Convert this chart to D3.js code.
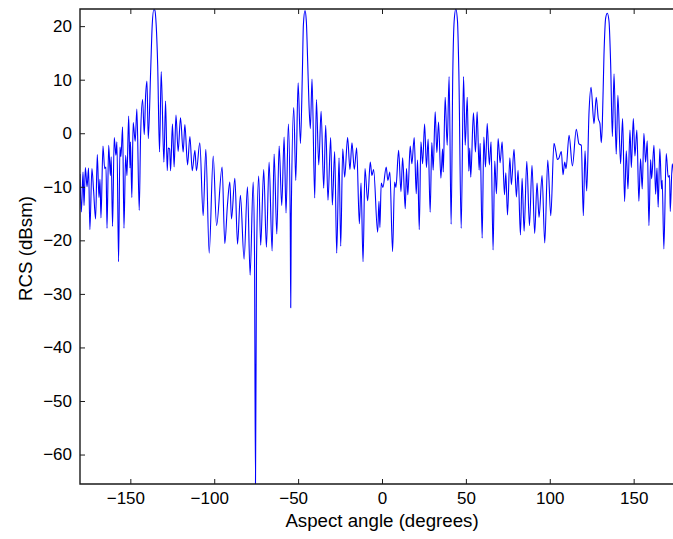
<!DOCTYPE html>
<html>
<head>
<meta charset="utf-8">
<script src="https://cdn.jsdelivr.net/npm/d3@7"></script>
<style>
  html, body { margin: 0; padding: 0; background: #fff; }
  svg { display: block; font-family: "Liberation Sans", Arial, Helvetica, sans-serif; }
</style>
</head>
<body>
<svg id="chart" width="673" height="539"></svg>
<script>
// Monostatic RCS versus aspect angle (degrees, dBsm)
const angle = [
  -180, -179.2, -178.2, -177.6, -176.8, -175.8, -174.9, -174.1, -172.9, -171.9,
  -170.7, -169.7, -168.7, -168.1, -167.5, -166.3, -165.3, -164.5, -163.9, -162.9,
  -161.9, -161.4, -160.6, -159.6, -158.6, -158.0, -157.0, -156.2, -155.6, -154.6,
  -153.8, -152.8, -152.0, -151.0, -150.2, -149.9, -149.1, -148.3, -147.1, -146.1,
  -144.7, -143.9, -142.7, -141.7, -140.9, -140.1, -139.3, -137.9, -136.95, -136.0,
  -135.4, -134.6, -133.7, -132.6, -131.6, -130.0, -129.0, -128.0, -127.4, -126.6,
  -126.0, -124.9, -123.9, -122.8, -121.5, -120.1, -118.5, -117.5, -115.9, -114.5,
  -113.1, -111.5, -110.6, -108.6, -106.6, -105.0, -103.0, -100.6, -98.6, -95.3,
  -93.7, -92.1, -90.7, -89.7, -87.7, -86.1, -84.4, -82.2, -80.2, -78.6,
  -76.8, -76.0, -75.4, -74.8, -73.5, -72.3, -70.5, -68.9, -67.3, -65.5,
  -64.3, -62.7, -61.3, -59.75, -58.35, -57.2, -55.8, -54.7, -54.4, -54.1,
  -52.6, -51.4, -50.0, -48.6, -47.45, -46.85, -45.9, -45.1, -44.3, -43.5,
  -42.7, -41.7, -40.1, -39.1, -37.7, -36.3, -34.75, -33.55, -32.2, -30.6,
  -29.6, -28.2, -27.0, -25.6, -24.6, -23.4, -22.25, -20.5, -19.1, -17.9,
  -16.5, -15.1, -13.5, -12.5, -11.3, -10.15, -8.55, -7.0, -6.0, -5.0,
  -2.6, -1.8, -1.25, -0.45, 0.55, 2.5, 3.5, 4.7, 6.3, 7.5,
  8.3, 9.9, 11.3, 12.3, 13.85, 14.6, 15.4, 16.8, 17.8, 19.2,
  20.4, 21.2, 22.2, 23.2, 24.2, 25.4, 26.5, 27.5, 28.7, 29.7,
  30.5, 31.7, 32.7, 33.7, 35.1, 36.1, 36.5, 37.65, 38.85, 40.0,
  41.2, 42.2, 43.0, 44.0, 45.0, 45.8, 47.2, 48.6, 49.6, 50.8,
  51.75, 52.3, 52.9, 54.5, 55.7, 56.7, 57.9, 58.5, 59.7, 60.7,
  61.7, 62.7, 64.0, 65.0, 66.2, 67.2, 68.2, 69.2, 70.4, 71.6,
  73.0, 73.8, 74.8, 76.2, 77.1, 78.7, 80.1, 81.1, 82.5, 83.5,
  84.7, 86.3, 87.9, 89.4, 91.0, 92.4, 93.6, 95.4, 97.0, 98.8,
  100.6, 102.5, 103.7, 104.5, 105.3, 106.9, 107.9, 108.9, 109.7, 111.5,
  113.5, 115.8, 117.4, 118.8, 120.0, 121.0, 122.0, 123.4, 124.6, 126.35,
  127.7, 128.9, 129.9, 130.7, 131.3, 132.3, 133.3, 134.3, 135.3, 136.3,
  137.3, 138.3, 139.6, 140.6, 142.2, 143.4, 144.6, 145.6, 146.6, 147.8,
  148.6, 149.8, 150.75, 151.9, 153.1, 154.1, 155.1, 156.1, 157.1, 158.1,
  159.1, 160.1, 160.7, 162.1, 163.1, 163.9, 164.6, 165.6, 166.6, 167.0,
  168.0, 169.4, 170.6, 171.4, 171.8, 173.0, 174.0
];

const rcs = [
  -7.6, -14.7, -7.25, -13.5, -6.4, -10, -6.5, -18, -6.6, -10.7,
  -16, -4, -12, -8.6, -15.8, -2.4, -6.6, -6.3, -17.75, -2.25,
  -7.9, -4.4, -17.4, -0.8, -4.1, -1.6, -24, -2.6, -4.4, 1.2,
  -17.75, -4.1, -7.9, 3.2, -6.5, -1.6, -12, 2, -1.5, 4.5,
  -14.4, -0.7, 6.3, -0.25, 7, 9.75, -1, 11.5, 20.25, 23.1,
  23.0, 20.25, 12.75, -3.5, 11.5, -5.4, 6, -7, -2.75, -2.9,
  -7, 1.7, -6.3, 3.4, -3.4, 2.9, -3.5, 1.6, -5.9, -0.6,
  -7, -3.2, -7, -1.8, -15.4, -3, -22.4, -4.25, -17.25, -6.3,
  -20.6, -13.3, -9.1, -16, -8.4, -20.7, -11.6, -23.5, -10, -26.5,
  -9.1, -22, -65.5, -24, -8, -20.9, -6.8, -21.3, -5.4, -22,
  -3.9, -18.8, -2.4, -13.5, -0.7, -14.9, 1.7, -16, -32.6, -16,
  4.8, -8.8, 9.4, -1.9, 11.5, 20.25, 22.9, 20.9, 13.4, 5.25,
  0.9, 10.1, -12.1, 6.3, -5.9, 4.1, -10.25, 1.5, -12.5, -0.8,
  -13.4, -3.4, -22.4, -4.6, -21.1, -2.9, -8.2, -0.8, -6.75, -1.8,
  -6.75, -2.7, -16.9, -9.3, -24, -6.6, -12.6, -5.4, -7.9, -6.8,
  -18.5, -12.7, -17.6, -9.3, -10.1, -6.3, -8.8, -7.25, -22.1, -9.1,
  -10.1, -3.2, -10.9, -4.6, -14.1, -6.6, -11.5, -2.4, -5.7, -0.8,
  -11.3, -5, -18, -1.6, -5.7, 1.7, -6.4, -1.1, -14.75, -1.75,
  -6.9, 4, -3.6, 2.1, -8.4, -2.9, -7.25, 6.7, -2.25, 10.6,
  -17, 11.5, 20.9, 23.2, 20.9, 11.5, -17.75, 10.6, -2.25, 6.7,
  -7.1, -2.75, -8.2, 3.8, -3.5, 4, -6.9, -1.9, -19.6, -0.7,
  -6.3, 1.8, -5.9, -1.6, -21.8, -5.2, -11.3, -1, -5.5, -1.6,
  -11.5, -7.4, -15.25, -4.6, -9.6, -3, -11.9, -6.9, -19, -8.4,
  -18.3, -5.25, -17.25, -6, -18.7, -9.3, -15.7, -7.9, -20.5, -5,
  -15.4, -1.9, -3.5, -4.9, -4.75, -3.4, -7.75, -5.4, -6.6, -0.4,
  -6.1, 0.75, -2, -2.25, -15.4, -3.3, -10.8, 4, 8.6, 1.8,
  6.7, 2.75, 1.8, -1.75, 1.5, 14.6, 21.5, 22.4, 20.9, 12.75,
  -0.6, 11.1, -3.9, 7.1, -5.7, 2.75, -12.75, -3.3, -10.4, 0.6,
  -6.4, 2.75, -4.25, 0.6, -12.7, -4.75, -10.4, 0, -5.4, -1.4,
  -17.25, -4.9, -8.5, -2.25, -11.4, -6.5, -13.8, -2.9, -10.4, -8.8,
  -21.6, -3.8, -8.2, -7.9, -14.6, -5.7, -8.5
];

const xTicks = [-150, -100, -50, 0, 50, 100, 150];
const yTicks = [-60, -50, -40, -30, -20, -10, 0, 10, 20];

const xLabel = "Aspect angle (degrees)";
const yLabel = "RCS (dBsm)";

const data = angle.map((a, i) => ({ a, v: rcs[i] }));

const svg = d3.select("#chart");
const margin = { left: 80, top: 9, bottom: 484, right: 684 };

const x = d3.scaleLinear().domain([-180, 180]).range([margin.left, margin.right]);
const y = d3.scaleLinear().domain(d3.extent(rcs)).range([margin.bottom, margin.top]);

const fmt = d => (d < 0 ? "\u2212" + Math.abs(d) : String(d));
const axisColor = "#1a1a1a";
const tickFont = 17;
const titleFont = 18.7;

// plot area clip
svg.append("defs").append("clipPath").attr("id", "plotClip")
  .append("rect")
  .attr("x", margin.left).attr("y", margin.top)
  .attr("width", margin.right - margin.left)
  .attr("height", margin.bottom - margin.top);

// data line
const line = d3.line()
  .x(d => x(d.a))
  .y(d => y(d.v))
  .curve(d3.curveMonotoneX);

svg.append("path")
  .datum(data)
  .attr("clip-path", "url(#plotClip)")
  .attr("fill", "none")
  .attr("stroke", "#0000ff")
  .attr("stroke-width", 1.1)
  .attr("stroke-linejoin", "round")
  .attr("d", line);

// axes (ticks point inward)
function styleAxis(g) {
  g.select(".domain").remove();
  g.selectAll(".tick line").attr("stroke", axisColor).attr("stroke-width", 1);
  g.selectAll(".tick text")
    .attr("fill", "#000")
    .style("font-size", tickFont + "px")
    .style("font-family", "'Liberation Sans', Arial, Helvetica, sans-serif");
}

const xAxisG = svg.append("g")
  .attr("transform", `translate(0,${margin.bottom})`)
  .call(d3.axisBottom(x).tickValues(xTicks).tickSize(-5).tickPadding(8).tickFormat(fmt))
  .call(styleAxis);

// digits stay centred on the tick, the minus sign hangs to the left
xAxisG.selectAll(".tick text")
  .attr("dx", d => (d < 0 ? -0.292 * tickFont : 0));

svg.append("g")
  .attr("transform", `translate(0,${margin.top})`)
  .call(d3.axisTop(x).tickValues(xTicks).tickSize(-5).tickFormat(""))
  .call(styleAxis);

svg.append("g")
  .attr("transform", `translate(${margin.left},0)`)
  .call(d3.axisLeft(y).tickValues(yTicks).tickSize(-5).tickPadding(8).tickFormat(fmt))
  .call(styleAxis);

// box lines
svg.append("path")
  .attr("fill", "none")
  .attr("stroke", axisColor)
  .attr("stroke-width", 1.4)
  .attr("d", `M${margin.right},${margin.top}H${margin.left}V${margin.bottom}H${margin.right}`);

// axis titles
svg.append("text")
  .attr("x", (margin.left + margin.right) / 2)
  .attr("y", 527)
  .attr("text-anchor", "middle")
  .style("font-size", titleFont + "px")
  .text(xLabel);

svg.append("text")
  .attr("transform", `translate(32,${(margin.top + margin.bottom) / 2 + 2}) rotate(-90)`)
  .attr("text-anchor", "middle")
  .style("font-size", titleFont + "px")
  .text(yLabel);
</script>
</body>
</html>
